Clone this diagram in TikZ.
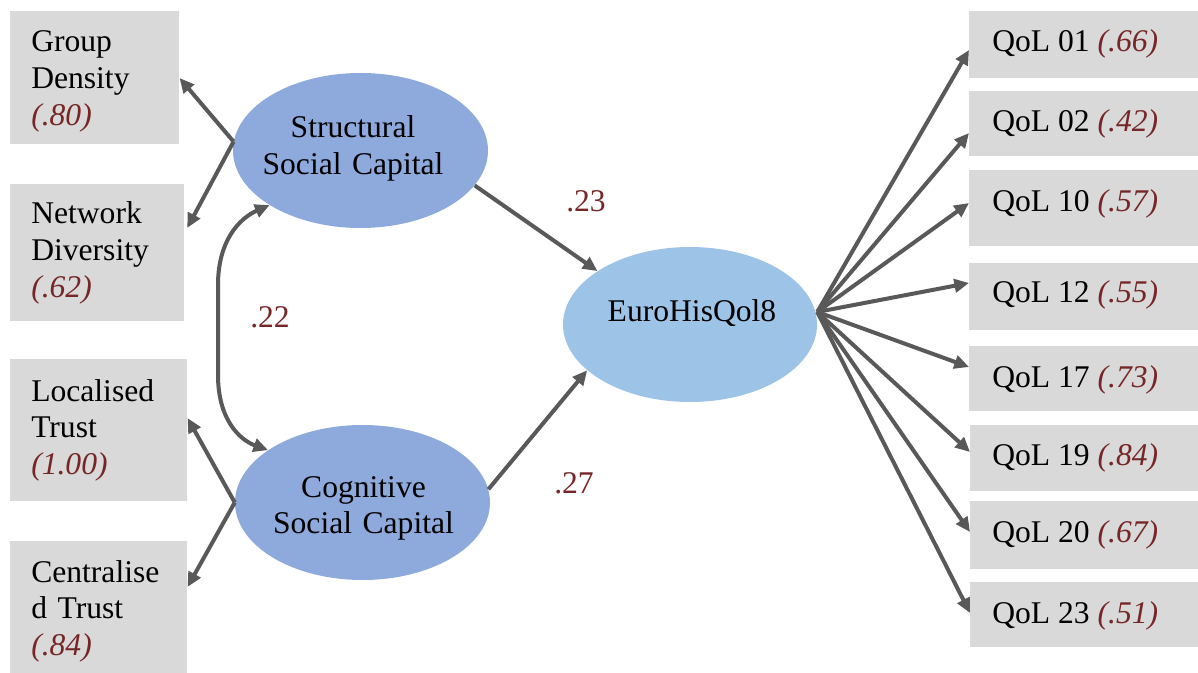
\documentclass[tikz,border=0pt]{standalone}
\usepackage{fontspec}
\setmainfont{Liberation Serif}
\usetikzlibrary{arrows.meta,shapes.geometric}
\definecolor{boxgray}{HTML}{D9D9D9}
\definecolor{latentblue}{HTML}{8EA9DB}
\definecolor{outcomeblue}{HTML}{9DC3E6}
\definecolor{arrowgray}{HTML}{595959}
\definecolor{coefred}{RGB}{118,38,38}
\begin{document}
\begin{tikzpicture}[x=0.75pt,y=-0.75pt,
  every node/.style={font=\fontsize{23.7pt}{27.5pt}\selectfont, inner sep=0pt},
  box/.style={fill=boxgray, anchor=north west},
  latent/.style={ellipse, fill=latentblue, minimum width=191.25pt, minimum height=116.25pt},
  outcome/.style={ellipse, fill=outcomeblue, minimum width=190.5pt, minimum height=116.25pt},
  itemtext/.style={anchor=base west, text width=120pt, align=left},
  lattext/.style={anchor=base, text width=190pt, align=center},
  coef/.style={anchor=base west, text=coefred},
  arr/.style={draw=arrowgray, line width=3pt, -{Triangle[length=11pt,width=10pt]}},
  darr/.style={draw=arrowgray, line width=3pt, {Triangle[length=11pt,width=10pt]}-{Triangle[length=11pt,width=10pt]}}
]
\useasboundingbox (0,0) rectangle (1198,673);
% indicator boxes, left side
\node[box, minimum width=169*0.75pt, minimum height=133*0.75pt] (gd) at (10,11) {};
\node[box, minimum width=174*0.75pt, minimum height=137*0.75pt] (nd) at (10,184) {};
\node[box, minimum width=177*0.75pt, minimum height=142*0.75pt] (lt) at (10,359) {};
\node[box, minimum width=177*0.75pt, minimum height=132*0.75pt] (ct) at (10,541) {};
\node[itemtext] (gdt) at (31,52) {Group\\Density\\\textcolor{coefred}{\itshape(.80)}};
\node[itemtext] (ndt) at (31,224) {Network\\Diversity\\\textcolor{coefred}{\itshape(.62)}};
\node[itemtext] (ltt) at (31,401) {Localised\\Trust\\\textcolor{coefred}{\itshape(1.00)}};
\node[itemtext] (ctt) at (31,582) {Centralise\\d Trust\\\textcolor{coefred}{\itshape(.84)}};
% indicator boxes, right side
\node[box, minimum width=229*0.75pt, minimum height=67*0.75pt] (q01) at (969,11) {};
\node[box, minimum width=229*0.75pt, minimum height=65*0.75pt] (q02) at (969,91) {};
\node[box, minimum width=229*0.75pt, minimum height=76*0.75pt] (q10) at (969,170) {};
\node[box, minimum width=229*0.75pt, minimum height=67*0.75pt] (q12) at (969,263) {};
\node[box, minimum width=229*0.75pt, minimum height=65*0.75pt] (q17) at (969,346) {};
\node[box, minimum width=228*0.75pt, minimum height=66*0.75pt] (q19) at (970,425) {};
\node[box, minimum width=228*0.75pt, minimum height=68*0.75pt] (q20) at (970,501) {};
\node[box, minimum width=228*0.75pt, minimum height=65*0.75pt] (q23) at (970,582) {};
\foreach \n/\y/\lab/\v in {q01/52/01/.66, q02/132/02/.42, q10/212/10/.57, q12/303/12/.55,
                           q17/387/17/.73, q19/465/19/.84, q20/542/20/.67, q23/623/23/.51}
  \node[anchor=base west] (\n t) at (992,\y) {QoL \lab{} \textcolor{coefred}{\itshape(\v)}};
% latent variables
\node[latent] (ss) at (360.5,150.5) {};
\node[latent] (cs) at (362.5,502.5) {};
\node[outcome] (eu) at (690,324.5) {};
\node[lattext] (sst) at (353,138) {Structural\\Social Capital};
\node[lattext] (cst) at (363.5,497) {Cognitive\\Social Capital};
\node[anchor=base] (eut) at (692,321) {EuroHisQol8};
% loadings of the social capital factors
\draw[arr] (ss.176) -- (gd.east |- 0,78);
\draw[arr] (ss.176) -- ([xshift=2pt]nd.east |- 0,228);
\draw[arr] (cs.west) -- (lt.east |- 0,418);
\draw[arr] (cs.west) -- (ct.east |- 0,587);
% correlation between the two factors
\draw[darr] (ss.211) .. controls (240,218) and (218,240) .. (218,285)
  -- (218,375) .. controls (218,420) and (240,440) .. (cs.151);
\node[coef] (r) at (250,327) {.22};
% structural paths
\draw[arr] (ss.343) -- (eu.150.6);
\draw[arr] (cs.6.7) -- (eu.204.8);
\node[coef] (b1) at (566,212) {.23};
\node[coef] (b2) at (554,493) {.27};
% loadings of the outcome
\coordinate (fan) at ([yshift=9.4pt]eu.east);
\foreach \n/\y in {q01/50,q02/133,q10/203,q12/283,q17/367,q19/452,q20/532,q23/613}
  \draw[arr] (fan) -- (\n.west |- 0,\y);
\end{tikzpicture}
\end{document}
